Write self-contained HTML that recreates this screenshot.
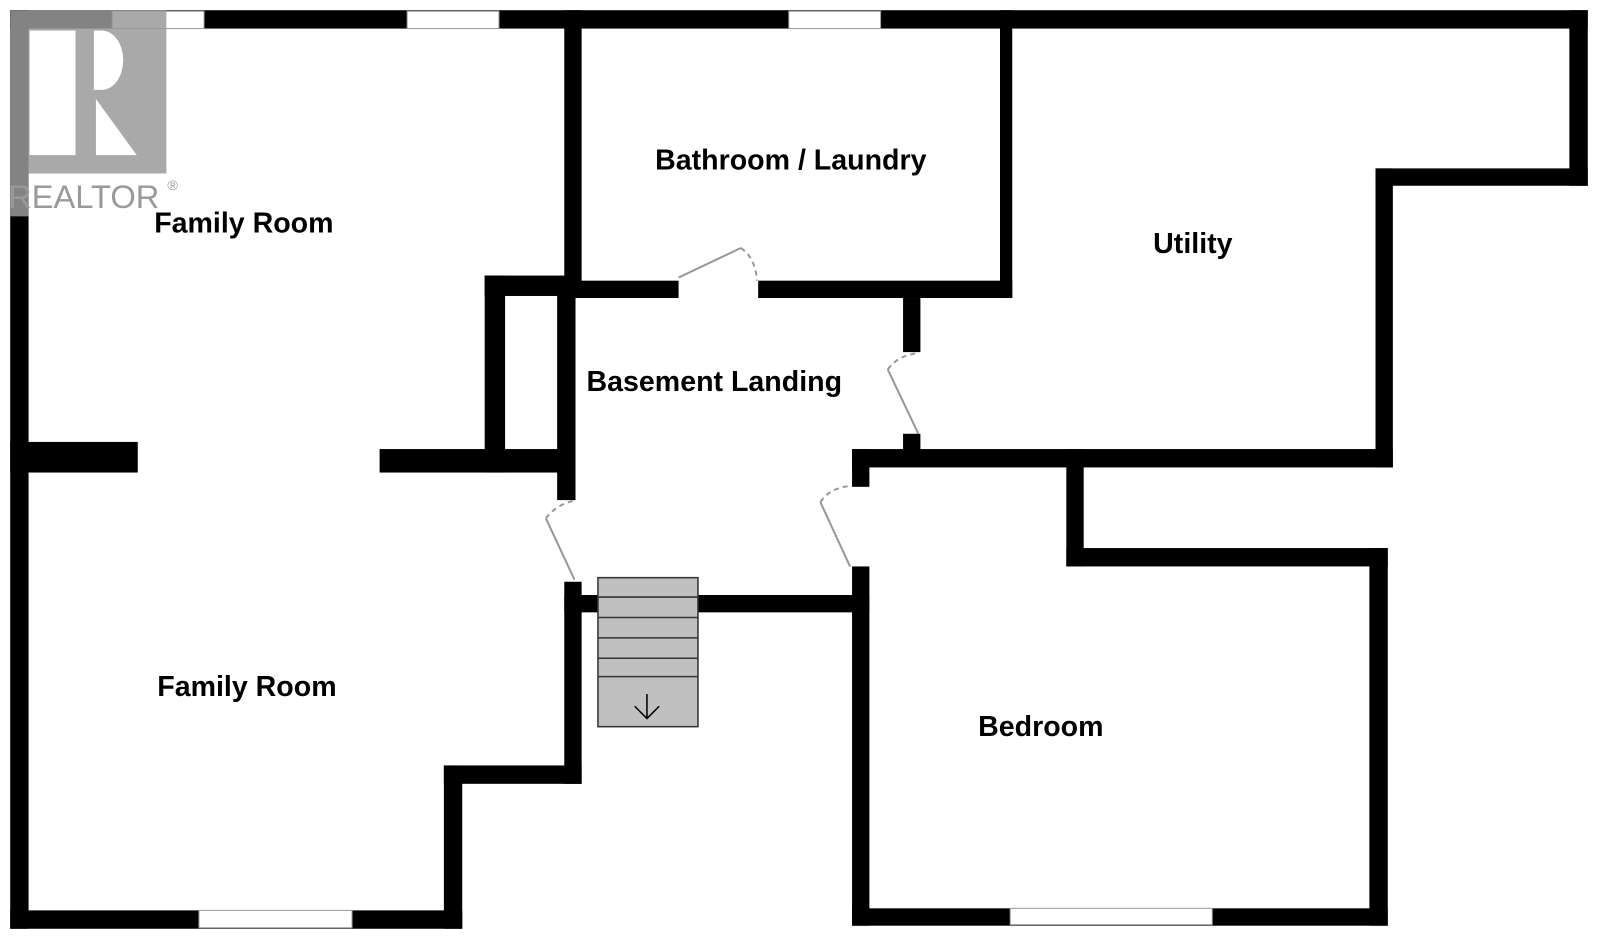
<!DOCTYPE html>
<html><head><style>html,body{margin:0;padding:0;background:#fff;}svg{display:block}</style></head>
<body>
<svg width="1600" height="941" viewBox="0 0 1568 922" preserveAspectRatio="none" xmlns="http://www.w3.org/2000/svg">
<rect width="1568" height="922" fill="#fff"/>
<g fill="#000">
<rect x="10" y="10" width="1546" height="18"/>
<rect x="10" y="10" width="18" height="900"/>
<rect x="10" y="433" width="125" height="30"/>
<rect x="10" y="892" width="443" height="18"/>
<rect x="435" y="750" width="18" height="160"/>
<rect x="435" y="750" width="135" height="18"/>
<rect x="553" y="570" width="17" height="198"/>
<rect x="553" y="10" width="17" height="280"/>
<rect x="475" y="270" width="90" height="20"/>
<rect x="475" y="270" width="20" height="193"/>
<rect x="372" y="440" width="191" height="23"/>
<rect x="546" y="290" width="18" height="200"/>
<rect x="553" y="275" width="112" height="17"/>
<rect x="743" y="275" width="249" height="17"/>
<rect x="980" y="10" width="12" height="282"/>
<rect x="885" y="292" width="17" height="53"/>
<rect x="885" y="425" width="17" height="20"/>
<rect x="835" y="440" width="530" height="18"/>
<rect x="835" y="440" width="17" height="37"/>
<rect x="1348" y="165" width="17" height="293"/>
<rect x="1348" y="165" width="208" height="17"/>
<rect x="1538" y="10" width="18" height="172"/>
<rect x="835" y="555" width="17" height="352"/>
<rect x="835" y="890" width="525" height="17"/>
<rect x="1342" y="537" width="18" height="370"/>
<rect x="1045" y="537" width="315" height="18"/>
<rect x="1045" y="440" width="17" height="115"/>
<rect x="553" y="583" width="299" height="17"/>
</g>
<g fill="#fff" stroke="#999" stroke-width="1">
<rect x="110" y="11" width="90" height="17"/>
<rect x="399" y="11" width="90" height="17"/>
<rect x="773" y="11" width="90" height="17"/>
<rect x="195" y="892" width="150" height="17"/>
<rect x="990" y="890" width="198" height="16"/>
</g>
<g stroke="#333" stroke-width="1.5" fill="#c0c0c0">
<rect x="586" y="566" width="98" height="146"/>
<line x1="586" y1="585" x2="684" y2="585"/>
<line x1="586" y1="605" x2="684" y2="605"/>
<line x1="586" y1="625" x2="684" y2="625"/>
<line x1="586" y1="645" x2="684" y2="645"/>
<line x1="586" y1="663" x2="684" y2="663"/>
<path d="M634 680 V704 M622 692 L634 704 L646 692" fill="none" stroke="#000"/>
</g>
<g stroke="#999" stroke-width="2" fill="none">
<line x1="665" y1="272" x2="726" y2="243"/>
<path d="M726 243 Q740 252 742 275" stroke-dasharray="5,4"/>
<line x1="900" y1="425" x2="870" y2="362"/>
<path d="M870 362 Q880 348 900 346" stroke-dasharray="5,4"/>
<line x1="563" y1="568" x2="535" y2="508"/>
<path d="M535 508 Q545 494 565 490" stroke-dasharray="5,4"/>
<line x1="833" y1="555" x2="804" y2="492"/>
<path d="M804 492 Q813 478 834 476" stroke-dasharray="5,4"/>
</g>
<g>
<rect x="10" y="10" width="153" height="160" fill="#9a9a9a" opacity="0.85"/>
<rect x="10" y="170" width="18" height="42" fill="#9a9a9a" opacity="0.85"/>
<rect x="29" y="30" width="45" height="122" fill="#fff"/>
<path d="M92 30 H100 A20 28 0 0 1 100 88 H92 Z" fill="#fff"/>
<path d="M94 97 V152 H134 Z" fill="#fff"/>
<text x="8" y="204" font-family="Liberation Sans, sans-serif" font-size="32" fill="#999">REALTOR</text>
<text x="164" y="186" font-family="Liberation Sans, sans-serif" font-size="14" fill="#999">®</text>
</g>
<g font-family="Liberation Sans, sans-serif" font-weight="bold" font-size="28" fill="#000" text-anchor="middle">
<text x="239" y="228">Family Room</text>
<text x="775" y="166">Bathroom / Laundry</text>
<text x="1169" y="248">Utility</text>
<text x="700" y="383">Basement Landing</text>
<text x="242" y="682">Family Room</text>
<text x="1020" y="721">Bedroom</text>
</g>
</svg>
</body></html>
